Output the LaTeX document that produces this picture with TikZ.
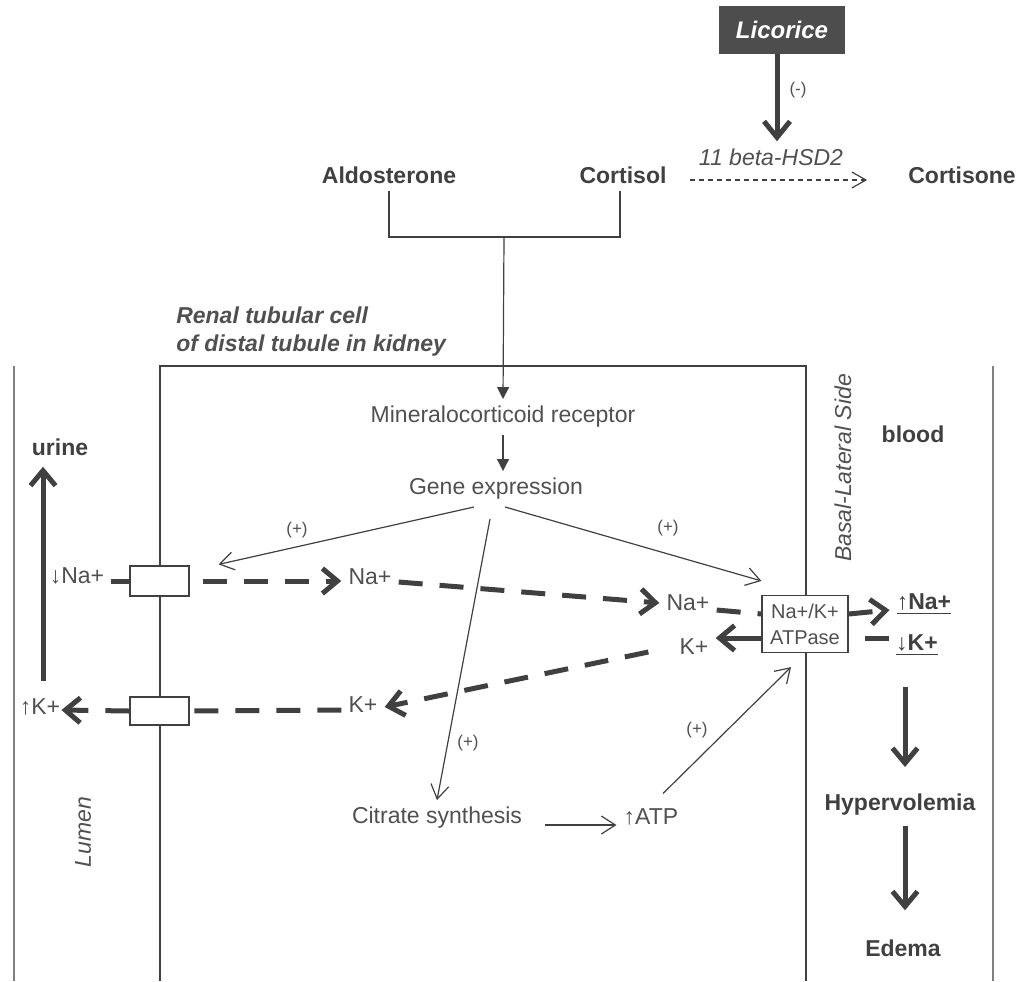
\documentclass[tikz,border=0pt]{standalone}
\usepackage{fontspec}
\setmainfont{Liberation Sans}
\usepackage{tikz}
\usetikzlibrary{arrows.meta}
\definecolor{ink}{HTML}{404040}
\definecolor{inkt}{HTML}{505050}
\definecolor{licgray}{HTML}{4D4D4D}
\definecolor{wallgray}{HTML}{808080}

\begin{document}
\begin{tikzpicture}[x=0.5pt, y=-0.5pt, color=ink,
		every path/.style={line width=0.6pt},
		lbl/.style={font=\fontsize{11.5}{14}\selectfont\bfseries, text=ink},
		txt/.style={font=\fontsize{11.5}{14}\selectfont, text=inkt},
		txtit/.style={font=\fontsize{11.5}{14}\selectfont\itshape, text=inkt},
		sign/.style={font=\fontsize{8.5}{10}\selectfont, text=inkt},
		thn/.style={-{Straight Barb[length=7pt,width=9pt]}, line width=0.6pt},
		thk/.style={-{Straight Barb[length=7.5pt,width=12.5pt]}, line width=2.5pt, draw=ink},
		dsh/.style={thk, dash pattern=on 12pt off 8.5pt},
		chan/.style={draw, fill=white, minimum width=29.5pt, minimum height=15pt, inner sep=0pt},
		wall/.style={line width=1.2pt, draw=wallgray}]
		\useasboundingbox (0,0) rectangle (1021,981);
		
		\draw[wall] (14,366) -- (14,981);
		\draw[wall] (993,366) -- (993,981);
		\draw (160,981) |- (806,366) -- (806,981);
		
		\node[draw=licgray, fill=licgray, text=white, minimum width=62.5pt, minimum height=23pt, inner sep=0pt,
			font=\fontsize{12}{14}\selectfont\bfseries\itshape] (lic) at (782,30) {Licorice};
		\node[txtit] (hsd) at (771,157) {11 beta-HSD2};
		\node[lbl] (ald) at (389,175) {Aldosterone};
		\node[lbl] (cortisol) at (623,175) {Cortisol};
		\node[lbl] (cortisone) at (962,175) {Cortisone};
		\coordinate (join) at (504,237);
		
		\node[anchor=west, align=left, text=inkt, font=\fontsize{11.5}{14}\selectfont\bfseries\itshape] (cell) at (169,332)
			{Renal tubular cell\\of distal tubule in kidney};
		\node[txtit, rotate=90] (basal) at (843,468) {Basal-Lateral Side};
		\node[txtit, rotate=90] (lumen) at (83,832) {Lumen};
		\node[lbl] (blood) at (913,434) {blood};
		\node[lbl] (urine) at (60,447) {urine};
		
		\node[txt] (mr) at (503,417) {Mineralocorticoid receptor};
		\node[txt] (gene) at (496,489) {Gene expression};
		
		\node[chan] (chanNa) at (159.5,581) {};
		\node[chan, minimum height=14pt] (chanK) at (159.5,711) {};
		\node[draw, fill=white, minimum width=43pt, minimum height=28.5pt, inner sep=0pt, align=center,
			text=inkt, font=\fontsize{10}{13}\selectfont] (atpase) at (805,624) {Na+/K+\\ATPase};
		
		\node[txt] (dNa) at (77,576) {↓Na+};
		\node[txt] (uK) at (40,707) {↑K+};
		\node[txt] (na1) at (370,577) {Na+};
		\node[txt] (k1) at (363,705) {K+};
		\node[txt] (na2) at (688,603) {Na+};
		\node[txt] (k2) at (694,647) {K+};
		\node[lbl] (upNa) at (924,604) {\underline{↑Na+}};
		\node[lbl] (dnK) at (917,645) {\underline{↓K+}};
		\node[txt] (citrate) at (437,818) {Citrate synthesis};
		\node[txt] (atp) at (651,817) {↑ATP};
		\node[lbl] (hyper) at (900,805) {Hypervolemia};
		\node[lbl] (edema) at (903,948) {Edema};
		
		\node[sign] (s0) at (798,90) {(-)};
		\node[sign] (s1) at (297,530) {(+)};
		\node[sign] (s2) at (668,528) {(+)};
		\node[sign] (s3) at (468,743) {(+)};
		\node[sign] (s4) at (697,730) {(+)};
		
		\draw[thk, -{Straight Barb[length=8pt,width=13pt]}] (lic.south -| 777,0) -- (hsd.north -| 777,0);
		\draw[thn, -{Straight Barb[length=7pt,width=8pt]}, dash pattern=on 2.5pt off 2pt]
			([xshift=8pt, yshift=-2.5pt]cortisol.east) -- ([xshift=-17pt, yshift=-2.5pt]cortisone.west);
		
		\draw (ald.south) |- (join) -| (cortisol.south -| 620,0);
		\draw[-{Triangle[length=6pt,width=6pt]}] (join) -- (mr.north);
		\draw[-{Triangle[length=6pt,width=6pt]}] (mr.south) -- (mr.south |- gene.north);
		
		\draw[thn] ([xshift=-11pt]gene.south) -- ([xshift=14.5pt, yshift=0.5pt]chanNa.north east);
		\draw[thn] ([xshift=4.5pt]gene.south) -- ([yshift=7pt]atpase.north west);
		\draw[thn] ([xshift=-3pt, yshift=-6pt]gene.south) -- (citrate.north);
		\draw[thn] ([xshift=8pt, yshift=-3.5pt]citrate.east) -- ([yshift=-4pt]atp.west);
		\draw[thn] ([xshift=6pt, yshift=4pt]atp.north) -- ([xshift=-7pt, yshift=-7pt]atpase.south);
		
		\draw[dsh, -] ([yshift=-2.5pt]dNa.east) -- (chanNa.west);
		\draw[dsh, dash phase=14pt] (chanNa.east) -- ([yshift=-2pt]na1.west);
		\draw[dsh] ([yshift=-2.5pt]na1.east) -- ([yshift=0pt]na2.west);
		\draw[dsh, -] ([yshift=-3.5pt]na2.east) -- ([yshift=5pt]atpase.west);
		\draw[dsh] ([yshift=5pt]atpase.east) -- ([yshift=-3pt]upNa.west);
		\draw[dsh, -] ([yshift=3.5pt]dnK.west) -- ([yshift=-7pt]atpase.east);
		\draw[thk] ([yshift=-7pt]atpase.west) -- ([yshift=4.5pt]k2.east);
		\draw[dsh] ([xshift=-12pt, yshift=-2.5pt]k2.west) -- ([yshift=-1pt]k1.east);
		\draw[dsh, -] ([yshift=-2.5pt]k1.west) -- (chanK.east);
		\draw[dsh] (chanK.west) -- ([xshift=-3pt, yshift=-1.5pt]uK.east);
		
		\draw[thk] ([xshift=1.5pt, yshift=5pt]uK.north) -- ([xshift=-8.5pt, yshift=-2pt]urine.south);
		\draw[thk] ([xshift=-6pt, yshift=-12pt]dnK.south) -- ([xshift=2.5pt, yshift=10pt]hyper.north);
		\draw[thk] ([xshift=2.5pt, yshift=-1.5pt]hyper.south) -- ([xshift=1pt, yshift=11pt]edema.north);
	\end{tikzpicture}
\end{document}
